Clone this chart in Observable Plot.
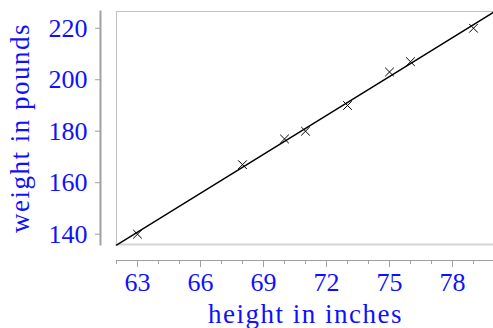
<!DOCTYPE html>
<html>
<head>
<meta charset="utf-8">
<script src="https://cdn.jsdelivr.net/npm/d3@7"></script>
<script src="https://cdn.jsdelivr.net/npm/@observablehq/plot@0.6"></script>
<style>
  html, body { margin: 0; padding: 0; background: #fff; }
</style>
</head>
<body>
<div id="chart"></div>
<script>
const heights = [63, 68, 70, 71, 73, 75, 76, 79];
const weights = [140, 167, 177, 180, 190, 203, 207, 220];
const xMajorTicks = [63, 66, 69, 72, 75, 78];
const xMinorTicks = d3.range(62, 81, 1);
const yTicks = [140, 160, 180, 200, 220];
const xDomain = [62, 80];
const yDomain = [136, 226.5];
const xLabel = "height in inches";
const yLabel = "weight in pounds";

const points = heights.map((h, i) => ({h, w: weights[i]}));
const mx = d3.mean(heights), my = d3.mean(weights);
const slope = d3.sum(points, d => (d.h - mx) * (d.w - my)) / d3.sum(points, d => (d.h - mx) ** 2);
const intercept = my - slope * mx;
const fitLine = xDomain.map(h => ({h, w: intercept + slope * h}));

const font = "Liberation Serif, Times New Roman, serif";
const blue = "#1010ff";
const axisGray = "#a0a0a0";

const chart = Plot.plot({
  width: 493,
  height: 328,
  marginLeft: 116,
  marginRight: -1,
  marginTop: 11,
  marginBottom: 84,
  style: {fontFamily: font, fontSize: "26px", background: "#fff"},
  x: {domain: xDomain},
  y: {domain: yDomain},
  marks: [
    Plot.frame({stroke: "#c0c0c0", strokeWidth: 1}),
    Plot.frame({anchor: "bottom", stroke: "#d4d4d4", strokeWidth: 2}),
    Plot.frame({anchor: "left", dx: -16, stroke: axisGray, strokeWidth: 2}),
    Plot.frame({anchor: "bottom", dy: 16, stroke: axisGray, strokeWidth: 1}),
    Plot.axisX(xMinorTicks, {dy: 16, tickSize: 4, tickFormat: () => "", label: null, stroke: axisGray}),
    Plot.axisX(xMajorTicks, {dy: 16, tickSize: 7, tickPadding: 5, label: null, stroke: axisGray, color: blue, fontSize: 26}),
    Plot.axisY(yTicks, {dx: -16, tickSize: 5, tickPadding: 8, label: null, stroke: axisGray, color: blue, fontSize: 26}),
    Plot.text([xLabel], {frameAnchor: "bottom", dy: 70, lineAnchor: "middle", textAnchor: "middle", fill: blue, fontSize: 27, fontFamily: font}),
    Plot.text([yLabel], {frameAnchor: "left", dx: -96, rotate: -90, lineAnchor: "middle", textAnchor: "middle", fill: blue, fontSize: 27, fontFamily: font}),
    Plot.line(fitLine, {x: "h", y: "w", stroke: "black", strokeWidth: 1.4}),
    Plot.dot(points, {x: "h", y: "w", symbol: "times", r: 4, stroke: "black", strokeWidth: 1})
  ]
});
document.getElementById("chart").appendChild(chart);
chart.querySelectorAll("text").forEach(t => {
  if (t.textContent === xLabel || t.textContent === yLabel) t.style.letterSpacing = "1.5px";
});
</script>
</body>
</html>
